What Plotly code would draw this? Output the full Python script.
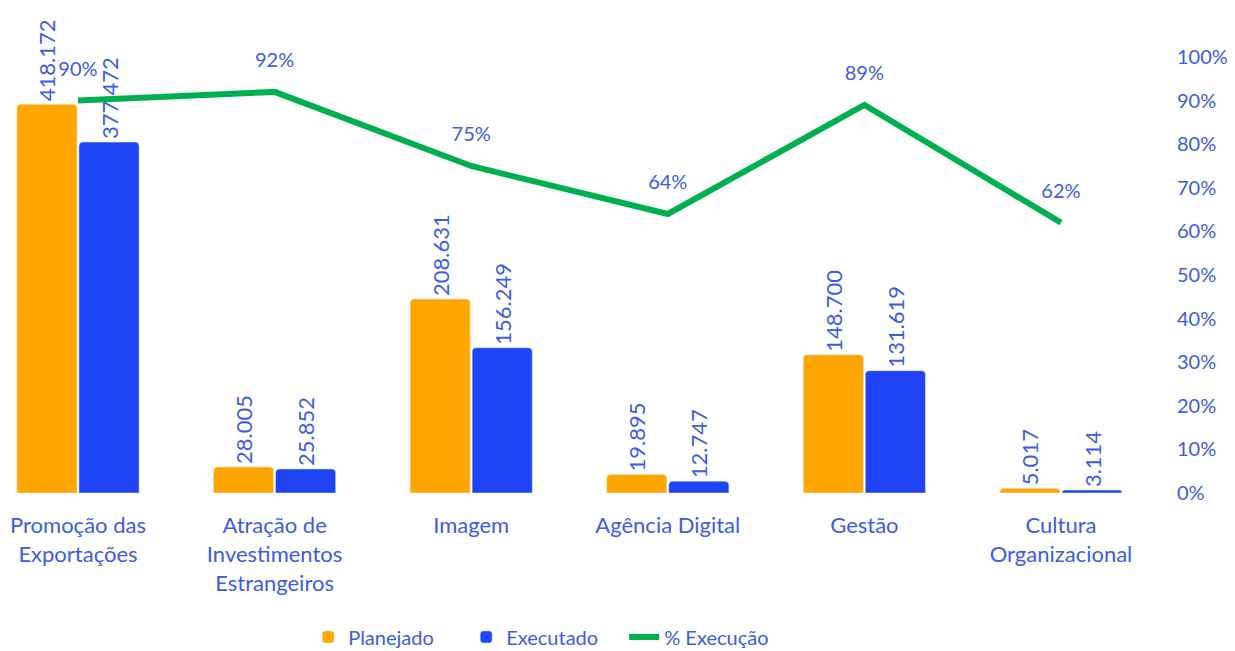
import plotly.graph_objects as go

categories = ["Promoção das<br>Exportações", "Atração de<br>Investimentos<br>Estrangeiros",
              "Imagem", "Agência Digital", "Gestão", "Cultura<br>Organizacional"]
planejado = [418172, 28005, 208631, 19895, 148700, 5017]
executado = [377472, 25852, 156249, 12747, 131619, 3114]
execucao = [0.90, 0.92, 0.75, 0.64, 0.89, 0.62]
pct_ticks = [0, 0.1, 0.2, 0.3, 0.4, 0.5, 0.6, 0.7, 0.8, 0.9, 1.0]

TXT = "#3D5CE6"
FONT = "Lato"

fig = go.Figure()
fig.add_trace(go.Bar(
    x=categories, y=planejado, name="Planejado", marker_color="#FFA600",
    texttemplate="%{y:,.0f}", textposition="outside", textangle=-90,
    textfont=dict(color=TXT, size=22, family=FONT), cliponaxis=False,
    constraintext="none"))
fig.add_trace(go.Bar(
    x=categories, y=executado, name="Executado", marker_color="#1E44F5",
    texttemplate="%{y:,.0f}", textposition="outside", textangle=-90,
    textfont=dict(color=TXT, size=22, family=FONT), cliponaxis=False,
    constraintext="none"))
fig.add_trace(go.Scatter(
    x=categories, y=execucao, name="% Execução", yaxis="y2",
    mode="lines+markers+text", line=dict(color="#00B050", width=6),
    marker=dict(size=30, color="rgba(0,0,0,0)"),
    texttemplate="%{y:.0%}", textposition="top center",
    textfont=dict(color=TXT, size=20, family=FONT), cliponaxis=False))

fig.update_layout(
    width=1227, height=651,
    margin=dict(l=0, r=59, t=49, b=166),
    paper_bgcolor="white", plot_bgcolor="white",
    separators=",.",
    barmode="group", bargap=0.369, bargroupgap=0.03, barcornerradius=4,
    font=dict(family=FONT, size=20, color=TXT),
    xaxis=dict(range=[-0.356, 5.585], showgrid=False, showline=False, zeroline=False,
               ticks="outside", ticklen=13, tickcolor="rgba(0,0,0,0)", automargin=False,
               tickfont=dict(size=22, color=TXT, family=FONT)),
    yaxis=dict(range=[0, 469000], visible=False, showgrid=False),
    yaxis2=dict(range=[0, 1.0], overlaying="y", side="right", tickvals=pct_ticks,
                tickformat=".0%", showgrid=False, zeroline=False, showline=False,
                automargin=False,
                tickfont=dict(size=20, color=TXT, family=FONT)),
    legend=dict(orientation="h", x=0.257, xanchor="left", y=-0.33, yanchor="middle",
                entrywidth=113, entrywidthmode="pixels",
                font=dict(size=20, color=TXT, family=FONT), traceorder="normal"),
    showlegend=True,
)

fig.write_html("out.html")
